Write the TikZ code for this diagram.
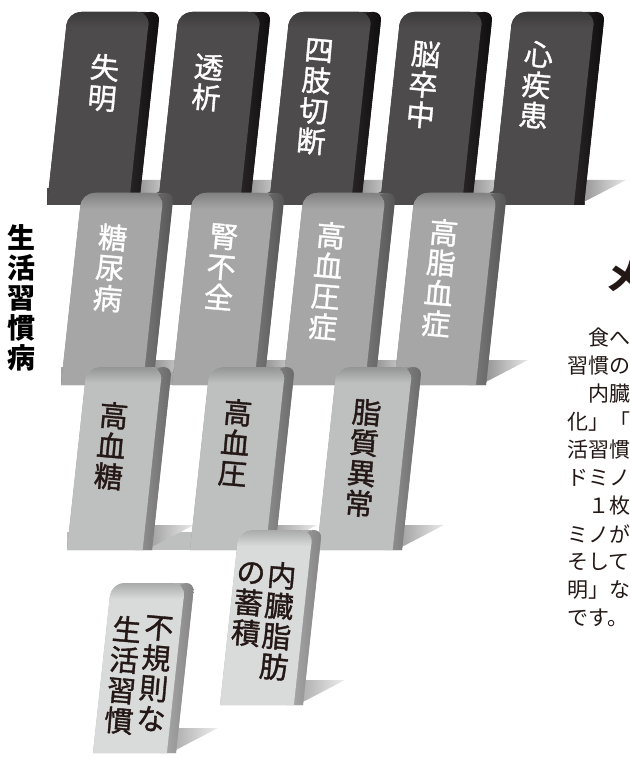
\documentclass[tikz,border=0pt]{standalone}
\usepackage{fontspec}
\newfontfamily\jpfont{Noto Sans CJK JP}
\newfontfamily\jpmedium{Noto Sans CJK JP}[FakeBold=1.2]
\usetikzlibrary{positioning}
\definecolor{rowone}{HTML}{4D4B4C}
\definecolor{rowoneside}{HTML}{2E2A2B}
\definecolor{rowoneedge}{HTML}{100D0E}
\definecolor{rowonewedge}{HTML}{8C8C8C}
\definecolor{rowtwo}{HTML}{A6A6A6}
\definecolor{rowtwoside}{HTML}{808080}
\definecolor{rowtwoedge}{HTML}{555555}
\definecolor{rowtwowedge}{HTML}{8A8A8A}
\definecolor{rowthree}{HTML}{BEBFBF}
\definecolor{rowthreeside}{HTML}{969696}
\definecolor{rowthreeedge}{HTML}{6A6A6A}
\definecolor{rowthreewedge}{HTML}{9A9A9A}
\definecolor{rowfour}{HTML}{D9DADA}
\definecolor{rowfourside}{HTML}{ADADAD}
\definecolor{rowfouredge}{HTML}{848484}
\definecolor{rowfourwedge}{HTML}{A8A8A8}
\definecolor{inkcol}{HTML}{231815}

% domino: #1 left x at base, #2 base y, #3 height, #4 width, #5 colour prefix
\newcommand{\domino}[5]{%
  \shade[left color=#5wedge, right color=#5wedge!20!white]
    ({#1+#4-6},{#2-25}) -- ({#1+#4+42},{#2-25}) -- ({#1+#4-6},#2) -- cycle;
  \begin{scope}[shift={(#1,#2)}, xslant=0.108]
    \fill[#5side, rounded corners=14] (0,0) -- (0,-#3) -- (#4,-#3) -- (#4,0);
    \shade[left color=#5side, right color=#5edge, rounded corners=8]
      ({0.8*#4},0) -- ({0.8*#4},-#3) -- (#4,-#3) -- (#4,0);
    \fill[#5, rounded corners=13] (0,0) -- (0,-#3) -- ({0.89*#4},-#3) -- ({0.89*#4},0);
    \shade[top color=#5!78!black, bottom color=#5, rounded corners=13]
      (0,{-#3+16}) -- (0,-#3) -- ({0.89*#4},-#3) -- ({0.89*#4},{-#3+16});
  \end{scope}}

\begin{document}
\begin{tikzpicture}[
  x=1pt, y=-1pt,
  dtext/.style={font=\jpmedium\fontsize{29}{30.5}\selectfont, align=center, anchor=north, rotate=-5, inner sep=0pt},
  light/.style={dtext, text=white},
  dark/.style={dtext, text=inkcol},
  body/.style={font=\jpfont\fontsize{21}{21}\selectfont, text=inkcol, anchor=west, inner sep=0pt},
]
\useasboundingbox (0,0) rectangle (629,759);
\clip (0,0) rectangle (629,759);

% === Row 1: complications ===
\fill[rowone] (47,188) rectangle (585,205);
\domino{47}{205}{193}{92}{rowone}
\domino{158}{205}{193}{92}{rowone}
\domino{269}{205}{193}{92}{rowone}
\domino{380}{205}{193}{92}{rowone}
\domino{492}{205}{193}{92}{rowone}
\node[light] (blind) at (106,54) {失\\明};
\node[light] (dialysis) at (210,54) {透\\析};
\node[light] (amputation) at (320,39) {四\\肢\\切\\断};
\node[light] (stroke) at (427,41) {脳\\卒\\中};
\node[light] (heart) at (540,41) {心\\疾\\患};

% === Row 2: lifestyle diseases ===
\fill[rowtwo] (61,367) rectangle (486,385);
\domino{61}{385}{192}{92}{rowtwo}
\domino{172}{385}{192}{92}{rowtwo}
\domino{283}{385}{192}{92}{rowtwo}
\domino{394}{385}{192}{92}{rowtwo}
\node[light] (diabetes) at (114,224) {糖\\尿\\病};
\node[light] (kidney) at (225,224) {腎\\不\\全};
\node[light] (hypertension) at (332,222) {高\\血\\圧\\症};
\node[light] (hyperlipid) at (445,219) {高\\脂\\血\\症};

% === Row 3: risk factors ===
\fill[rowthree] (67,532) rectangle (402,550);
\domino{67}{550}{183}{85}{rowthree}
\domino{190}{550}{183}{85}{rowthree}
\domino{317}{550}{183}{85}{rowthree}
\node[dark] (glucose) at (115,402) {高\\血\\糖};
\node[dark] (pressure) at (239,399) {高\\血\\圧};
\node[dark] (lipid) at (368,399) {脂\\質\\異\\常};

% === Row 4: root causes ===
\domino{220}{705}{175}{83}{rowfour}
\domino{93}{753}{170}{83}{rowfour}
\node[dark] (fat-a) at (283,562) {内\\臓\\脂\\肪};
\node[dark] (fat-b) at (252,562) {の\\蓄\\積};
\node[dark] (habit-a) at (160,616) {不\\規\\則\\な};
\node[dark] (habit-b) at (128,616) {生\\活\\習\\慣};

% side label
\node[font=\jpfont\bfseries\fontsize{28}{30}\selectfont, align=center, anchor=north, inner sep=0pt] (label) at (22,224) {生\\活\\習\\慣\\病};

% === body text, cut by the page edge ===
\node[font=\jpfont\bfseries\fontsize{36}{36}\selectfont, text=inkcol, anchor=west, inner sep=0pt] (head) at (605,276) {メ};
\node[body] (l1) at (588,338) {食へ};
\node[body] (l2) at (567,366) {習慣の};
\node[body] (l3) at (588,394) {内臓};
\node[body] (l4) at (567,422) {化」「};
\node[body] (l5) at (567,450) {活習慣};
\node[body] (l6) at (567,478) {ドミノ};
\node[body] (l7) at (588,506) {１枚};
\node[body] (l8) at (567,534) {ミノが};
\node[body] (l9) at (567,562) {そして};
\node[body] (l10) at (567,590) {明」な};
\node[body] (l11) at (567,618) {です。};
\end{tikzpicture}
\end{document}
